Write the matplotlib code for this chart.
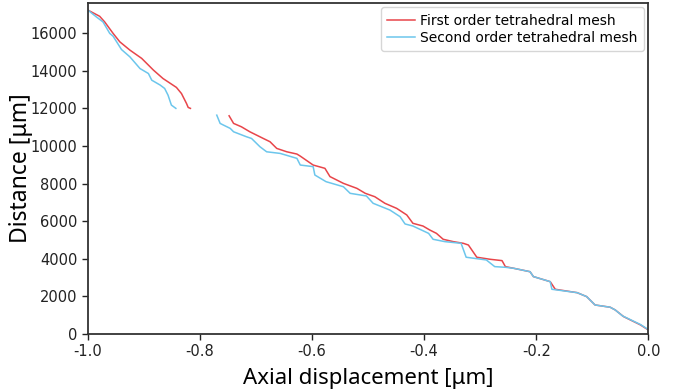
import numpy as np
import matplotlib
matplotlib.use("Agg")
import matplotlib.pyplot as plt

# First order tetrahedral mesh (red), NaN marks the gap in the curve
first_x = [-1.0, -0.979, -0.970, -0.955, -0.943, -0.925, -0.904, -0.883, -0.866,
           -0.842, -0.833, -0.824, -0.821, -0.817, np.nan,
           -0.748, -0.740, -0.726, -0.711, -0.687, -0.675, -0.663, -0.645, -0.627,
           -0.621, -0.598, -0.577, -0.568, -0.544, -0.520, -0.505, -0.488, -0.470,
           -0.449, -0.431, -0.420, -0.402, -0.390, -0.378, -0.366, -0.348, -0.330,
           -0.321, -0.306, -0.282, -0.261, -0.255, -0.240, -0.211, -0.205, -0.175,
           -0.166, -0.127, -0.110, -0.095, -0.068, -0.059, -0.044, -0.014, 0.0]
first_y = [17230, 16900, 16600, 15990, 15540, 15100, 14660, 14035, 13590,
           13115, 12790, 12260, 12050, 12000, np.nan,
           11605, 11200, 11020, 10755, 10400, 10225, 9870, 9690, 9570,
           9460, 8985, 8810, 8370, 8010, 7745, 7480, 7300, 6950,
           6680, 6330, 5885, 5740, 5530, 5350, 5035, 4910, 4820,
           4730, 4080, 3970, 3900, 3580, 3490, 3310, 3050, 2780,
           2375, 2195, 1985, 1540, 1420, 1275, 920, 480, 210]

# Second order tetrahedral mesh (blue)
second_x = [-1.0, -0.985, -0.973, -0.961, -0.955, -0.940, -0.925, -0.907, -0.892,
            -0.886, -0.871, -0.863, -0.857, -0.851, -0.843, np.nan,
            -0.770, -0.764, -0.758, -0.746, -0.740, -0.717, -0.708, -0.693, -0.681,
            -0.657, -0.627, -0.621, -0.598, -0.595, -0.575, -0.544, -0.532, -0.503,
            -0.491, -0.461, -0.443, -0.434, -0.420, -0.392, -0.384, -0.363, -0.334,
            -0.325, -0.289, -0.274, -0.255, -0.240, -0.211, -0.205, -0.175,
            -0.172, -0.127, -0.110, -0.095, -0.068, -0.059, -0.046, -0.014, 0.0]
second_y = [17230, 16870, 16600, 15990, 15840, 15130, 14740, 14120, 13855,
            13500, 13240, 13060, 12705, 12175, 12000, np.nan,
            11640, 11200, 11110, 10935, 10755, 10490, 10400, 9960, 9690,
            9605, 9340, 8985, 8900, 8455, 8100, 7830, 7480, 7340,
            6950, 6590, 6240, 5850, 5740, 5350, 5035, 4910, 4820,
            4080, 3935, 3580, 3545, 3490, 3310, 3050, 2780,
            2375, 2195, 1985, 1540, 1420, 1275, 960, 500, 230]

x_ticks = [-1.0, -0.8, -0.6, -0.4, -0.2, 0.0]
y_ticks = [0, 2000, 4000, 6000, 8000, 10000, 12000, 14000, 16000]

plt.rcParams['font.family'] = ['DejaVu Sans']

fig = plt.figure(figsize=(6.76, 3.91), dpi=100)
ax = fig.add_axes([0.130, 0.146, 0.829, 0.846])

ax.plot(first_x, first_y, color='#e8454a', linewidth=1.1,
        label='First order tetrahedral mesh')
ax.plot(second_x, second_y, color='#6cc6ec', linewidth=1.1,
        label='Second order tetrahedral mesh')

ax.set_xlim(-1.0, 0.0)
ax.set_ylim(0, 17600)
ax.set_xticks(x_ticks)
ax.set_xticklabels([f'{v:.1f}' for v in x_ticks])
ax.set_yticks(y_ticks)
ax.tick_params(labelsize=10.5, length=4, width=1, colors='#222222')
for sp in ax.spines.values():
    sp.set_linewidth(1.3)
    sp.set_color('#333333')

ax.set_xlabel('Axial displacement [μm]', fontsize=16, family='Noto Sans',
              labelpad=6)
ax.set_ylabel('Distance [μm]', fontsize=16.5, family='Noto Sans', labelpad=-2)

leg = ax.legend(loc='upper right', fontsize=10, frameon=True,
                borderaxespad=0.3, handlelength=2.0, handletextpad=0.4,
                labelspacing=0.25, borderpad=0.45, fancybox=True)
leg.get_frame().set_edgecolor('#cccccc')

fig.savefig('out.png', dpi=100)
